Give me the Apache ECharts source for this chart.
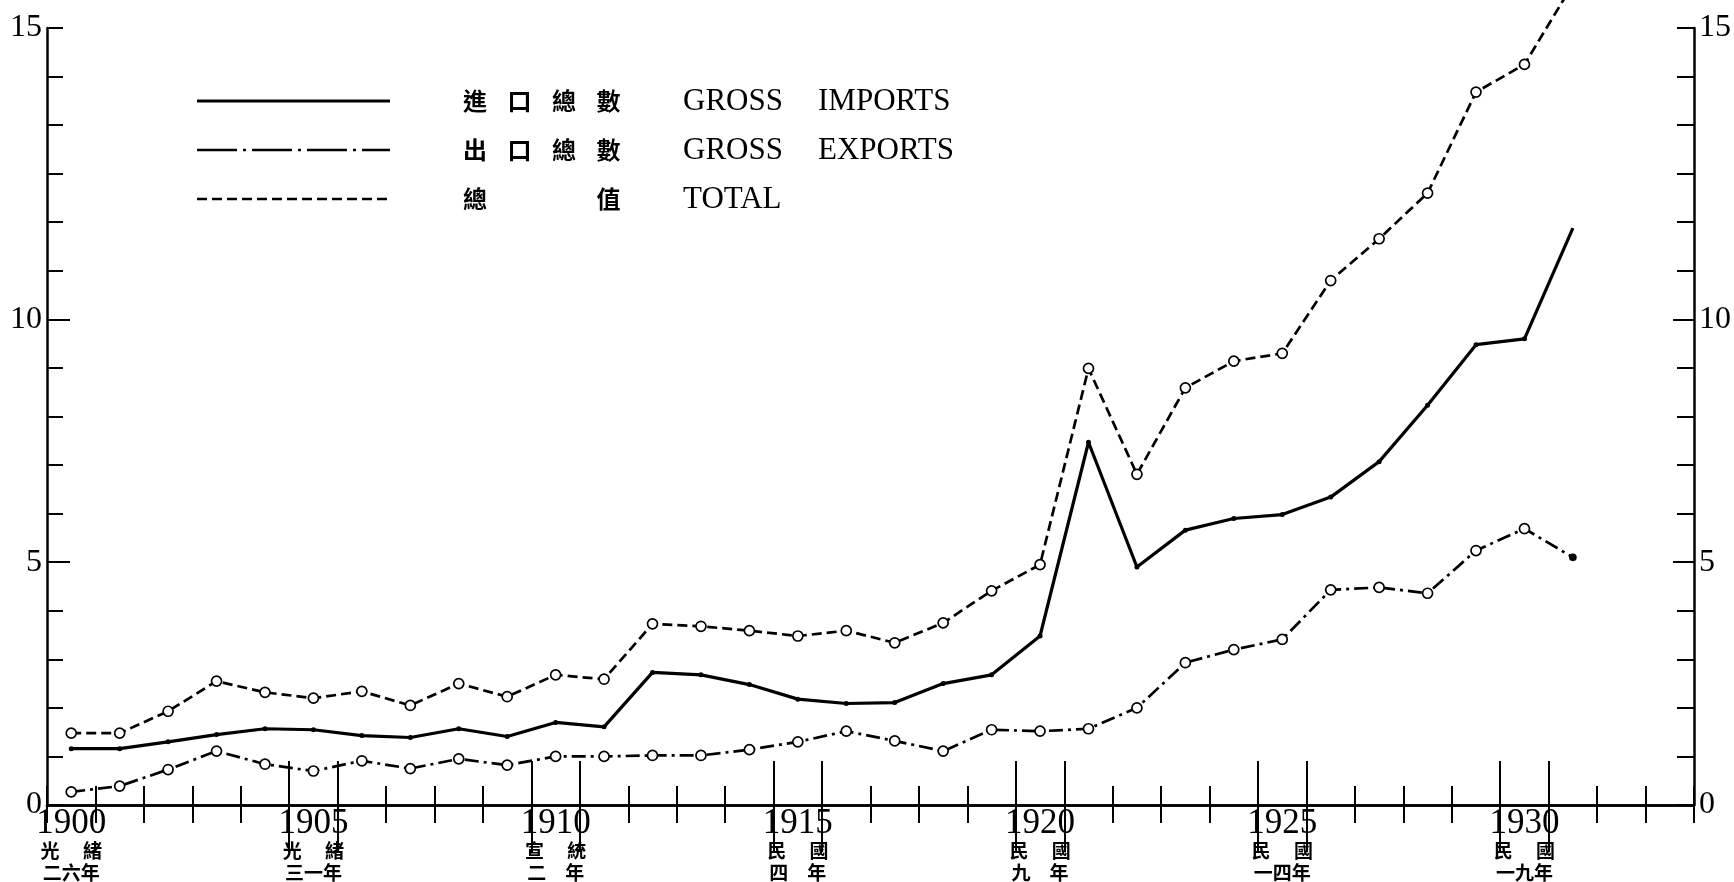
<!DOCTYPE html>
<html><head><meta charset="utf-8">
<script src="https://cdn.jsdelivr.net/npm/echarts@6/dist/echarts.min.js"></script>
<style>html,body{margin:0;padding:0;background:#fff}#c{width:1734px;height:882px}</style>
</head><body><div id="c"></div>
<script>
// ---- data ----
const years = [1900,1901,1902,1903,1904,1905,1906,1907,1908,1909,1910,1911,1912,1913,1914,1915,1916,1917,1918,1919,1920,1921,1922,1923,1924,1925,1926,1927,1928,1929,1930,1931];
const grossImports = [1.16,1.16,1.30,1.45,1.57,1.55,1.43,1.39,1.57,1.41,1.70,1.61,2.73,2.68,2.48,2.18,2.09,2.11,2.50,2.68,3.48,7.47,4.90,5.66,5.90,5.98,6.34,7.07,8.23,9.48,9.60,11.88];
const grossExports = [0.27,0.39,0.73,1.11,0.84,0.70,0.91,0.75,0.95,0.82,1.00,1.00,1.02,1.02,1.14,1.30,1.52,1.32,1.11,1.55,1.52,1.57,2.00,2.93,3.20,3.41,4.43,4.48,4.36,5.24,5.69,5.10];
const totalValues = [1.48,1.48,1.93,2.55,2.32,2.20,2.34,2.05,2.50,2.23,2.68,2.59,3.73,3.68,3.59,3.48,3.59,3.34,3.75,4.41,4.95,8.99,6.81,8.59,9.14,9.30,10.80,11.66,12.60,14.68,15.25,16.90];

const xLabelYears = [1900,1905,1910,1915,1920,1925,1930];
const eraLine1 = ['光緒','光緒','宣統','民國','民國','民國','民國'];
const eraLine2 = ['二六年','三一年','二　年','四　年','九　年','一四年','一九年'];
const yLabelValues = [0,5,10,16];
const yLabelTexts = ['0','5','10','15'];

const legendZh = ['進口總數','出口總數','總值'];
const legendEn1 = ['GROSS','GROSS','TOTAL'];
const legendEn2 = ['IMPORTS','EXPORTS',''];

// ---- axis tick positions (layout) ----
const xMin = 1899.5, xMax = 1933.5;
const halfYears = [];
for (let v = xMin; v <= xMax + 1e-9; v += 1) halfYears.push(v);
const longYearTicks = [];
xLabelYears.forEach(y => { if (y > 1900) { longYearTicks.push(y - 0.5, y + 0.5); } });
const yMinorTicks = [];
for (let v = 0; v <= 16; v++) yMinorTicks.push(v);
const yLongTicks = [5, 10];

const serif = '"Liberation Serif", "Times New Roman", serif';
const cjk = '"Noto Sans CJK TC", "Noto Sans CJK JP", sans-serif';

function xLabelFmt(v) {
  const i = xLabelYears.indexOf(Math.round(v));
  if (i < 0) return '';
  return '{y|' + xLabelYears[i] + '}\n{a|' + eraLine1[i].split('').join('\u3000 ') + '}\n{b|' + eraLine2[i] + '}';
}
function yLabelFmt(v) {
  const i = yLabelValues.indexOf(v);
  return i < 0 ? '' : yLabelTexts[i];
}

const axisLineStyle = { show: true, lineStyle: { color: '#000', width: 2.5 } };
const noLine = { show: false };

const chart = echarts.init(document.getElementById('c'), null, { renderer: 'canvas' });

function xAxisDef(pos, ticks, len, withLine, withLabel) {
  return {
    type: 'value', min: xMin, max: xMax, position: pos, gridIndex: 0,
    axisLine: withLine ? axisLineStyle : noLine,
    axisTick: { show: true, inside: true, length: len, customValues: ticks, lineStyle: { color: '#000', width: 2 } },
    axisLabel: withLabel ? {
      show: true, customValues: xLabelYears, formatter: xLabelFmt, margin: 4,
      showMinLabel: true, showMaxLabel: true, color: '#000',
      rich: {
        y: { fontFamily: serif, fontSize: 35, lineHeight: 30, color: '#000' },
        a: { fontFamily: cjk, fontWeight: 'bold', fontSize: 19, lineHeight: 23, color: '#000' },
        b: { fontFamily: cjk, fontWeight: 'bold', fontSize: 19, lineHeight: 21, color: '#000' }
      }
    } : { show: false },
    splitLine: { show: false }
  };
}
function yAxisDef(pos, ticks, len, withLine, withLabel) {
  return {
    type: 'value', min: 0, max: 16, position: pos, gridIndex: 0,
    axisLine: withLine ? axisLineStyle : noLine,
    axisTick: { show: true, inside: true, length: len, customValues: ticks, lineStyle: { color: '#000', width: 2 } },
    axisLabel: withLabel ? {
      show: true, customValues: yLabelValues, formatter: yLabelFmt, margin: 5,
      showMinLabel: true, showMaxLabel: true,
      fontFamily: serif, fontSize: 32, color: '#000'
    } : { show: false },
    splitLine: { show: false }
  };
}

const openSymbol = { color: '#fff', borderColor: '#000', borderWidth: 1.7 };

const importsPts = years.map((y, i) => i === years.length - 1 ? { value: [y, grossImports[i]], symbol: 'none' } : [y, grossImports[i]]);
const exportsPts = years.map((y, i) => i === years.length - 1 ? { value: [y, grossExports[i]], symbolSize: 6, itemStyle: { color: '#000', borderColor: '#000' } } : [y, grossExports[i]]);
const totalPts = years.map((y, i) => [y, totalValues[i]]);

// legend graphics
const legendRowsY = [101, 150, 199];
const legendDash = [null, [40, 6, 3, 6], [10, 5]];
const legendWidth = [3, 2.5, 2.5];
const graphics = [];
legendRowsY.forEach((yy, r) => {
  const st = { stroke: '#000', lineWidth: legendWidth[r] };
  if (legendDash[r]) st.lineDash = legendDash[r];
  graphics.push({ type: 'line', shape: { x1: 197, y1: yy, x2: 390, y2: yy }, style: st, silent: true });
  const chars = legendZh[r].split('');
  const slots = chars.length === 4 ? [0, 1, 2, 3] : [0, 3];
  chars.forEach((ch, k) => {
    graphics.push({ type: 'text', x: 463 + slots[k] * 44.5, y: yy, style: { text: ch, font: 'bold 24px ' + cjk, fill: '#000', verticalAlign: 'middle', align: 'left' }, silent: true });
  });
  graphics.push({ type: 'text', x: 683, y: yy + 1, style: { text: legendEn1[r], font: '31px ' + serif, fill: '#000', verticalAlign: 'middle', align: 'left' }, silent: true });
  if (legendEn2[r]) graphics.push({ type: 'text', x: 818, y: yy + 1, style: { text: legendEn2[r], font: '31px ' + serif, fill: '#000', verticalAlign: 'middle', align: 'left' }, silent: true });
});

chart.setOption({
  animation: false,
  backgroundColor: '#fff',
  grid: { left: 47, right: 37, top: 28, bottom: 77, containLabel: false },
  xAxis: [
    xAxisDef('bottom', halfYears, 19, true, true),
    xAxisDef('bottom', longYearTicks, 44, false, false),
    xAxisDef('top', halfYears, 18, true, false),
    xAxisDef('top', longYearTicks, 47, false, false)
  ],
  yAxis: [
    yAxisDef('left', yMinorTicks, 16, true, true),
    yAxisDef('left', yLongTicks, 23, false, false),
    yAxisDef('right', yMinorTicks, 17, true, true),
    yAxisDef('right', yLongTicks, 21, false, false)
  ],
  graphic: graphics,
  series: [
    {
      name: 'GROSS IMPORTS', type: 'line', xAxisIndex: 0, yAxisIndex: 0,
      data: importsPts, clip: false, showAllSymbol: true,
      symbol: 'circle', symbolSize: 5,
      itemStyle: { color: '#000' },
      lineStyle: { color: '#000', width: 3.2 }, z: 3
    },
    {
      name: 'GROSS EXPORTS', type: 'line', xAxisIndex: 0, yAxisIndex: 0,
      data: exportsPts, clip: false, showAllSymbol: true,
      symbol: 'circle', symbolSize: 10,
      itemStyle: openSymbol,
      lineStyle: { color: '#000', width: 2.7, type: [14, 5, 3, 5] }, z: 4
    },
    {
      name: 'TOTAL', type: 'line', xAxisIndex: 0, yAxisIndex: 0,
      data: totalPts, clip: false, showAllSymbol: true,
      symbol: 'circle', symbolSize: 10,
      itemStyle: openSymbol,
      lineStyle: { color: '#000', width: 2.7, type: [10, 5] }, z: 4
    }
  ]
});
</script></body></html>
